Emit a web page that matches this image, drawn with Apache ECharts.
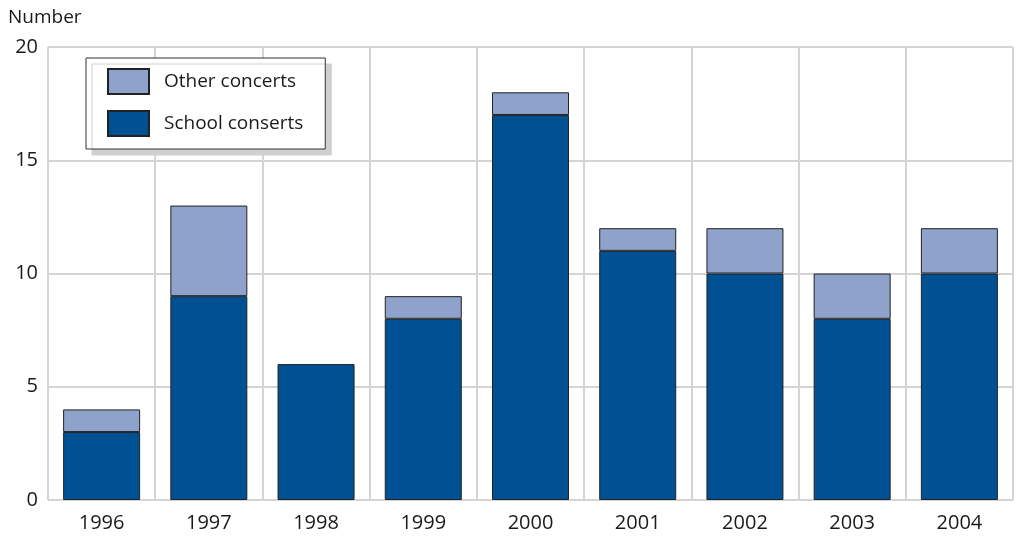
<!DOCTYPE html>
<html>
<head>
<meta charset="utf-8">
<script src="https://cdn.jsdelivr.net/npm/echarts@6/dist/echarts.min.js"></script>
<style>
  html, body { margin: 0; padding: 0; background: #fff; }
  #chart { width: 1016px; height: 536px; }
</style>
</head>
<body>
<div id="chart"></div>
<script>
// values
const years = ['1996', '1997', '1998', '1999', '2000', '2001', '2002', '2003', '2004'];
const schoolConcerts = [3, 9, 6, 8, 17, 11, 10, 8, 10];
const otherConcerts = [1, 4, 0, 1, 1, 1, 2, 2, 2];

const chart = echarts.init(document.getElementById('chart'));
const font = '"Open Sans", "Noto Sans", sans-serif';
const gridLine = { show: true, lineStyle: { color: '#d4d4d4', width: 2 } };

chart.setOption({
    animation: false,
    textStyle: { fontFamily: font },
    grid: { left: 48, right: 3, top: 47, bottom: 36 },
    legend: {
        orient: 'vertical',
        left: 86,
        top: 58,
        padding: [10, 22, 12, 21],
        itemWidth: 41,
        itemHeight: 25,
        itemGap: 15,
        icon: 'rect',
        backgroundColor: '#fff',
        borderColor: '#333',
        borderWidth: 1,
        shadowColor: '#cfcfcf',
        shadowBlur: 0,
        shadowOffsetX: 6,
        shadowOffsetY: 6,
        textStyle: { fontSize: 19, color: '#1a1a1a', fontFamily: font, padding: [0, 0, 0, 10] },
        data: ['Other concerts', 'School conserts']
    },
    xAxis: {
        type: 'category',
        data: years,
        axisLine: { show: false },
        axisTick: { show: false },
        splitLine: gridLine,
        axisLabel: { fontSize: 20, color: '#1a1a1a', margin: 13 }
    },
    yAxis: {
        type: 'value',
        min: 0,
        max: 20,
        interval: 5,
        name: 'Number',
        nameLocation: 'end',
        nameGap: 20,
        nameTextStyle: { fontSize: 19, color: '#1a1a1a', align: 'left', padding: [0, 0, 0, -40] },
        axisLine: { show: false },
        axisTick: { show: false },
        splitLine: gridLine,
        axisLabel: { fontSize: 20, color: '#1a1a1a', margin: 10 }
    },
    series: [
        {
            name: 'School conserts',
            type: 'bar',
            stack: 'total',
            barWidth: 77,
            data: schoolConcerts,
            itemStyle: { color: '#005194', borderColor: '#222', borderWidth: 1 }
        },
        {
            name: 'Other concerts',
            type: 'bar',
            stack: 'total',
            barWidth: 77,
            data: otherConcerts.map(v => v === 0 ? null : v),
            itemStyle: { color: '#8ea2cb', borderColor: '#222', borderWidth: 1 }
        }
    ]
});
</script>
</body>
</html>
